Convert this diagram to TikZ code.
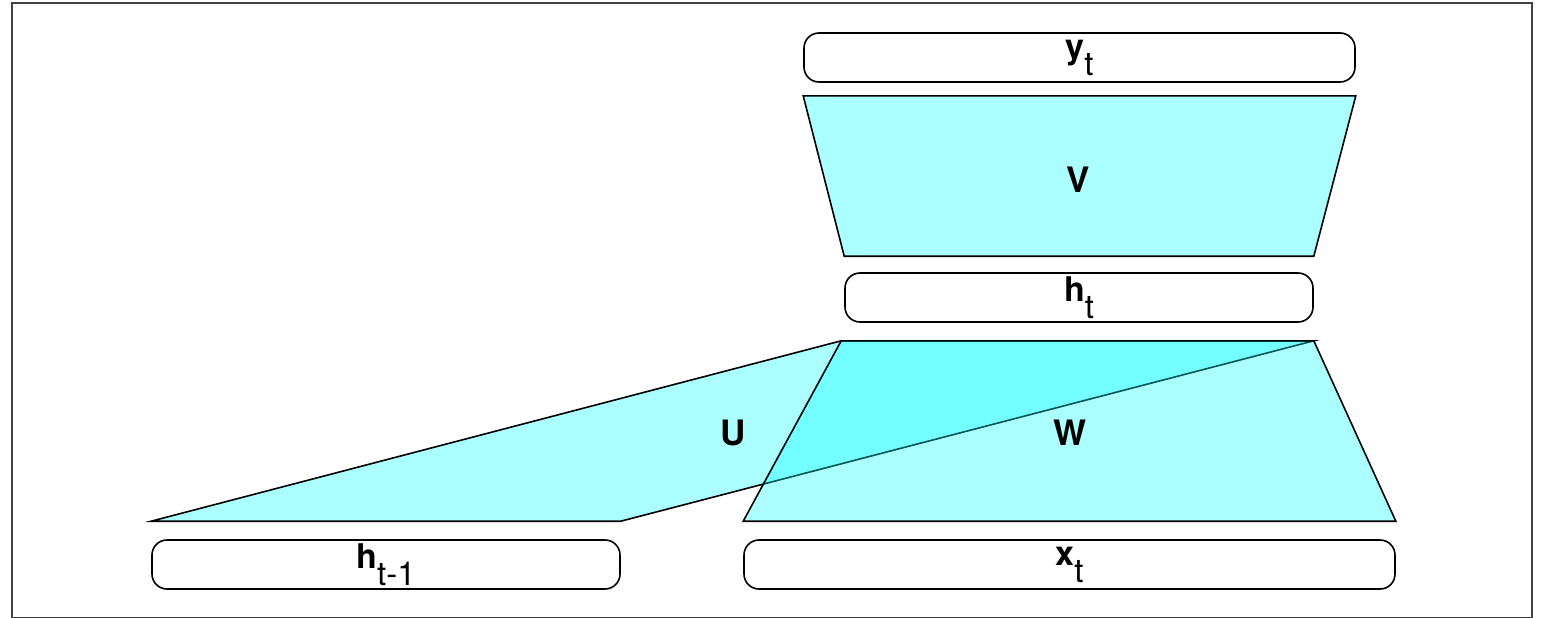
\documentclass[tikz,border=0pt]{standalone}
\usepackage{fontspec}
\setmainfont{TeX Gyre Heros}
\usetikzlibrary{calc}
\definecolor{wcyan}{RGB}{0,255,255}
\newcommand{\lbl}[2]{\textbf{#1}\raisebox{-17pt}{\fontsize{33}{33}\selectfont #2}}
\begin{document}
\begin{tikzpicture}[x=1pt, y=-1pt,
    box/.style={draw, line width=1.6pt, rounded corners=15pt, minimum height=49pt,
                inner sep=0pt, font=\fontsize{34}{34}\selectfont},
    layer/.style={draw, line width=1.6pt, fill=wcyan, fill opacity=0.33, line join=miter},
    wlabel/.style={font=\fontsize{35}{35}\selectfont\bfseries}]
    % Frame
    \useasboundingbox (0,0) rectangle (1542,618);
    \draw[line width=1.5pt, black!75] (12,3) rectangle (1532,617.5);

    % Vectors
    \node[box, minimum width=551pt] (yt) at (1079.5,57.5) {\lbl{y}{t}};
    \node[box, minimum width=468pt] (ht) at (1079,297.5) {\lbl{h}{t}};
    \node[box, minimum width=468pt] (hprev) at (386,564.5) {\lbl{h}{t-1}};
    \node[box, minimum width=651pt] (xt) at (1069.5,564.5) {\lbl{x}{t}};

    % Recurrent weights U
    \draw[layer]
    ($(hprev.north west)+(0,-18)$) -- ($(hprev.north east)+(0,-18)$)
    -- ($(ht.south east)+(0,18)$) -- ($(ht.south west)+(-3,18)$) -- cycle;

    % Input weights W
    \draw[layer]
    ($(ht.south west)+(-3,18)$) -- ($(ht.south east)+(0,18)$)
    -- ($(xt.north east)+(0,-18)$) -- ($(xt.north west)+(0,-18)$) -- cycle;

    % Output weights V
    \draw[layer]
    ($(yt.south west)+(0,13)$) -- ($(yt.south east)+(0,13)$)
    -- ($(ht.north east)+(0,-16)$) -- ($(ht.north west)+(0,-16)$) -- cycle;

    % Weight labels
    \node[wlabel] (U) at (733,433) {U};
    \node[wlabel] (W) at (1070,433) {W};
    \node[wlabel] (V) at (1078,180) {V};
\end{tikzpicture}
\end{document}
